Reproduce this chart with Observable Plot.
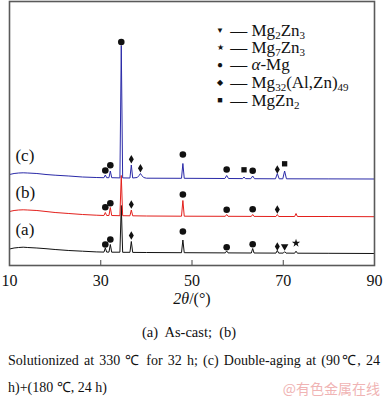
<!DOCTYPE html>
<html><head><meta charset="utf-8">
<script src="https://cdn.jsdelivr.net/npm/d3@7"></script>
<script src="https://cdn.jsdelivr.net/npm/@observablehq/plot@0.6"></script>
<style>
body{margin:0;background:#fff;}
#wrap{position:relative;width:384px;height:403px;background:#fff;font-family:"Liberation Serif","Times New Roman",serif;color:#111;}
.abs{position:absolute;white-space:nowrap;}
.leg{position:absolute;left:214px;font-size:17px;line-height:15px;height:15px;white-space:nowrap;}
.leg .sym{display:inline-block;width:12px;text-align:center;vertical-align:middle;position:relative;top:-2px;}
.leg sub{font-size:11px;vertical-align:-3px;line-height:0;}
svg text{font-family:"Liberation Serif","Times New Roman",serif;}
</style></head>
<body><div id="wrap"></div>
<script>
// 2θ (deg) ticks
const xTicks = [10, 30, 50, 70, 90];

// Curve (a) As-cast : [2θ, intensity a.u.]
const curveA = [[10,16.5],[11,17.5],[12,18],[13,18.3],[14,18],[16,17.5],[18,16.8],[20,16],[23,15],[26,14.3],[29,13.6],
 [30.7,13.4],[31.0,17.5],[31.3,13.4],[31.8,13.4],[32.1,21],[32.4,13.3],[34.2,13.3],[34.5,60],[34.8,13.2],
 [36.4,13.2],[36.7,24],[37.0,13.1],[40,13],[47.7,12.8],[48.0,25.5],[48.3,12.8],[57.3,12.6],[57.6,14.5],[57.9,12.6],
 [63.0,12.5],[63.3,17],[63.6,12.5],[68.4,12.4],[68.7,15],[69.0,12.4],[70.0,12.4],[70.3,13.8],[70.6,12.4],
 [72.5,12.3],[72.8,14.3],[73.1,12.3],[80,12.2],[90,12]];

// Curve (b) Solutionized
const curveB = [[10,54],[11,55],[12,55.5],[13,55.7],[14,55.5],[16,55],[18,54],[20,53],[23,52],[26,51],[29,50.3],
 [30.7,50],[31.0,53],[31.3,50],[31.8,50],[32.1,58],[32.4,50],[34.2,49.8],[34.5,90],[34.8,49.8],
 [36.4,49.7],[36.7,55.5],[37.0,49.7],[40,49.5],[47.7,49.3],[48.0,65],[48.3,49.3],[57.3,49.2],[57.6,51],[57.9,49.2],
 [63.0,49.1],[63.3,51],[63.6,49.1],[68.4,49],[68.7,51],[69.0,49],[72.5,49],[72.8,52],[73.1,49],[80,49],[90,48.8]];

// Curve (c) Double-aging
const curveC = [[10,91],[11,92],[12,92.5],[13,92.7],[14,92.5],[16,92],[18,91],[20,90.3],[23,89.5],[26,88.5],[29,88],
 [30.7,87.8],[31.0,90.5],[31.3,87.8],[31.8,87.8],[32.1,94.5],[32.4,87.8],[34.2,87.6],[34.5,220],[34.8,87.6],
 [36.4,87.5],[36.7,100.5],[37.0,87.5],[38.0,88],[38.4,90],[38.7,92],[39.0,90],[39.4,88],[40,87.3],
 [47.7,87.2],[48.0,102],[48.3,87.2],[57.2,87],[57.6,90],[58.0,87],[61.1,86.9],[61.4,88.5],[61.7,86.9],
 [62.9,86.8],[63.3,89.5],[63.7,86.8],[68.3,86.7],[68.7,92],[69.1,86.7],[69.9,86.7],[70.3,94.5],[70.7,86.7],[80,86.6],[90,86.5]];

// Phase markers: [2θ, level, phase]
const markers = [
 [31.0,21,"aMg"],[32.1,26,"aMg"],[36.7,30,"Mg32"],[48.0,34,"aMg"],[57.6,18.3,"aMg"],[63.3,21.3,"aMg"],
 [68.7,19,"Mg32"],[70.3,19,"Mg2Zn3"],[72.8,22.3,"Mg7Zn3"],
 [31.0,58.3,"aMg"],[32.1,62.3,"aMg"],[36.7,61,"Mg32"],[48.0,71,"aMg"],[57.6,55.7,"aMg"],[63.3,56.3,"aMg"],[68.7,56,"Mg32"],
 [31.0,95,"aMg"],[32.1,100.3,"aMg"],[34.5,223.5,"aMg"],[36.7,106.3,"Mg32"],[38.7,97.3,"Mg32"],[48.0,111,"aMg"],
 [57.6,96,"aMg"],[61.4,95.7,"MgZn2"],[63.3,94.7,"aMg"],[68.7,96,"Mg32"],[70.3,101.7,"MgZn2"]];

// Curve labels
const curveLabels = [["(a)",36],["(b)",73.3],["(c)",110]];

const serif = "'Liberation Serif', 'Times New Roman', serif";
const symbolStyle = {
  aMg:{symbol:"circle", r:3.3, rotate:0},
  Mg32:{symbol:"diamond", r:2.6, rotate:0},
  Mg2Zn3:{symbol:"triangle", r:2.8, rotate:180},
  Mg7Zn3:{symbol:"star", r:2.6, rotate:0},
  MgZn2:{symbol:"square", r:3.0, rotate:0}
};

const dotMarks = Object.keys(symbolStyle).map(k => Plot.dot(markers.filter(m => m[2] === k), {
  x: d => d[0], y: d => d[1], fill: "#111", stroke: "none", ...symbolStyle[k]
}));

const chart = Plot.plot({
  width: 384, height: 290,
  marginTop: 1, marginLeft: 9, marginRight: 10, marginBottom: 25,
  style: {fontFamily: serif, fontSize: "15px", background: "white", color: "#111"},
  x: {domain: [10, 90]},
  y: {domain: [0, 264], axis: null},
  marks: [
    Plot.ruleX(xTicks.slice(1, -1), {y1: 0, y2: 5, stroke: "#444", strokeWidth: 1}),
    Plot.line(curveA, {x: d => d[0], y: d => d[1], stroke: "#111", strokeWidth: 1}),
    Plot.line(curveB, {x: d => d[0], y: d => d[1], stroke: "#e3201c", strokeWidth: 1}),
    Plot.line(curveC, {x: d => d[0], y: d => d[1], stroke: "#2a2aa8", strokeWidth: 1}),
    ...dotMarks,
    Plot.text(curveLabels, {x: 11.3, y: d => d[1], text: d => d[0], textAnchor: "start", fontSize: 17, fontFamily: serif, fill: "#111"}),
    Plot.axisX({ticks: xTicks, tickSize: 0, tickPadding: 9, tickFormat: d => String(d), label: null, fontSize: 16, fontFamily: serif}),
    Plot.frame({stroke: "#5a5a5a", strokeWidth: 1.6})
  ]
});
const wrap = document.getElementById("wrap");
chart.style.position = "absolute"; chart.style.left = "0px"; chart.style.top = "0px";
wrap.appendChild(chart);

const legendItems = [
  ["▼", "Mg<sub>2</sub>Zn<sub>3</sub>", 23, 8],
  ["★", "Mg<sub>7</sub>Zn<sub>3</sub>", 40, 8],
  ["●", "<i>α</i>-Mg", 57, 10],
  ["◆", "Mg<sub>32</sub>(Al,Zn)<sub>49</sub>", 75, 8],
  ["■", "MgZn<sub>2</sub>", 93, 9]
];
for (const [s, t, top, fs] of legendItems) {
  const el = document.createElement("div");
  el.className = "leg"; el.style.top = top + "px";
  el.innerHTML = `<span class="sym" style="font-size:${fs}px">${s}</span> — ${t}`;
  wrap.appendChild(el);
}

function addText(html, css) {
  const el = document.createElement("div");
  el.className = "abs"; el.innerHTML = html;
  Object.assign(el.style, css);
  wrap.appendChild(el);
  return el;
}
addText("<i>2θ</i>/(°)", {left: "0px", width: "384px", textAlign: "center", top: "290px", fontSize: "16px", lineHeight: "18px"});
addText("(a)&nbsp; As-cast;&nbsp; (b)", {left: "0px", width: "378px", textAlign: "center", top: "324px", fontSize: "14.5px", lineHeight: "16px"});
addText("Solutionized at 330 ℃ for 32 h; (c) Double-aging at (90℃, 24", {left: "8px", width: "372px", top: "353px", fontSize: "14px", lineHeight: "16px", whiteSpace: "normal", textAlign: "justify", textAlignLast: "justify"});
addText("h)+(180 ℃, 24 h)", {left: "8px", top: "380px", fontSize: "14px", lineHeight: "16px"});
addText("@有色金属在线", {right: "4px", top: "380px", fontSize: "14px", lineHeight: "16px", color: "#f0b4b4", fontFamily: "'Noto Sans CJK SC', sans-serif"});
</script></body></html>
